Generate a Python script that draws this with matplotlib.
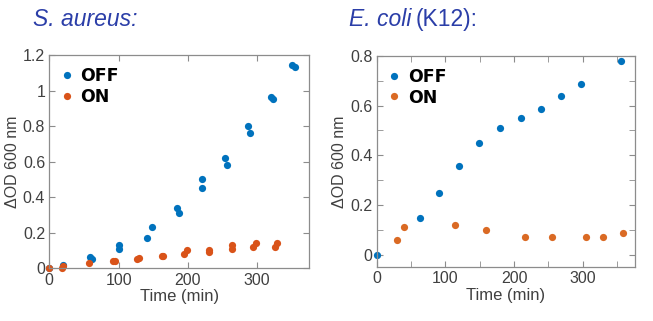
import matplotlib
matplotlib.use('Agg')
import matplotlib.pyplot as plt
from matplotlib.ticker import MultipleLocator

plt.rcParams['font.family'] = ['Liberation Sans', 'DejaVu Sans']

# S. aureus growth, two replicates per time point
sa_off_t = [0, 20, 59, 61, 100, 101, 141, 148, 184, 187, 220, 221, 253, 257, 287, 289, 320, 323, 350, 354]
sa_off_y = [0.0, 0.02, 0.062, 0.051, 0.131, 0.109, 0.169, 0.231, 0.342, 0.31, 0.50, 0.451, 0.622, 0.579, 0.803, 0.763, 0.962, 0.953, 1.143, 1.131]
sa_on_t = [0, 18, 20, 57, 92, 95, 127, 129, 162, 164, 195, 198, 230, 231, 264, 264, 294, 298, 326, 328]
sa_on_y = [0.0, 0.0, 0.012, 0.028, 0.04, 0.042, 0.051, 0.06, 0.069, 0.069, 0.079, 0.103, 0.09, 0.103, 0.107, 0.131, 0.118, 0.141, 0.118, 0.141]

# E. coli K12 growth
ec_off_t = [0, 63, 90, 120, 149, 180, 210, 239, 268, 297, 356]
ec_off_y = [0.0, 0.15, 0.25, 0.359, 0.448, 0.508, 0.548, 0.588, 0.639, 0.688, 0.779]
ec_on_t = [29, 39, 114, 159, 216, 255, 304, 329, 359]
ec_on_y = [0.06, 0.11, 0.119, 0.099, 0.07, 0.07, 0.07, 0.07, 0.089]

blue = '#0072BD'
orange = '#D95319'
orange2 = '#DA6A24'
title_col = '#2B3EA8'
grey = '#404040'

fig = plt.figure(figsize=(6.53, 3.21), dpi=100)
ax1 = fig.add_axes([0.0755, 0.164, 0.398, 0.6645])
ax2 = fig.add_axes([0.5769, 0.1673, 0.3956, 0.659])


def style(ax):
    for s in ax.spines.values():
        s.set_color('#8c8c8c')
        s.set_linewidth(0.9)
    ax.tick_params(which='both', direction='in', top=True, right=True,
                   color='#8c8c8c', labelcolor=grey, labelsize=11.5, pad=3)
    ax.tick_params(which='major', length=4)
    ax.tick_params(which='minor', length=4)
    ax.set_xlabel('Time (min)', fontsize=12, color=grey, labelpad=1)
    ax.set_ylabel('ΔOD 600 nm', fontsize=11.5, color=grey, labelpad=2)
    ax.yaxis.set_major_formatter(plt.FuncFormatter(lambda v, p: '%g' % round(v, 2)))


ms = 5.2
ax1.plot(sa_off_t, sa_off_y, 'o', color=blue, ms=ms, mew=0, label='OFF', clip_on=False)
ax1.plot(sa_on_t, sa_on_y, 'o', color=orange, ms=ms, mew=0, label='ON', clip_on=False)
ax1.set_xlim(0, 375)
ax1.set_ylim(0, 1.2)
ax1.xaxis.set_major_locator(MultipleLocator(100))
ax1.yaxis.set_major_locator(MultipleLocator(0.2))
style(ax1)

ax2.plot(ec_off_t, ec_off_y, 'o', color=blue, ms=ms, mew=0, label='OFF', clip_on=False)
ax2.plot(ec_on_t, ec_on_y, 'o', color=orange2, ms=ms, mew=0, label='ON', clip_on=False)
ax2.set_xlim(0, 376)
ax2.set_ylim(-0.05, 0.8)
ax2.xaxis.set_major_locator(MultipleLocator(100))
ax2.xaxis.set_minor_locator(MultipleLocator(50))
ax2.yaxis.set_major_locator(MultipleLocator(0.2))
ax2.yaxis.set_minor_locator(MultipleLocator(0.1))
style(ax2)

for ax in (ax1, ax2):
    leg = ax.legend(loc='upper left', frameon=False, handlelength=0.6,
                    handletextpad=0.5, labelspacing=0.15, borderaxespad=0.3,
                    prop={'family': 'DejaVu Sans', 'weight': 'bold', 'size': 12.5})
    for t in leg.get_texts():
        t.set_color('black')

# panel titles
ty = 1 - 26 / 321
fig.text(33 / 653, ty, 'S. aureus:', fontsize=16.5, style='italic', color=title_col)
t1 = fig.text(349 / 653, ty, 'E. coli', fontsize=16.5, style='italic', color=title_col)
fig.canvas.draw()
bb = t1.get_window_extent()
fig.text(bb.x1 / fig.bbox.width + 0.007, ty, '(K12):', fontsize=16.5, color=title_col)

fig.savefig('out.png', dpi=100)
